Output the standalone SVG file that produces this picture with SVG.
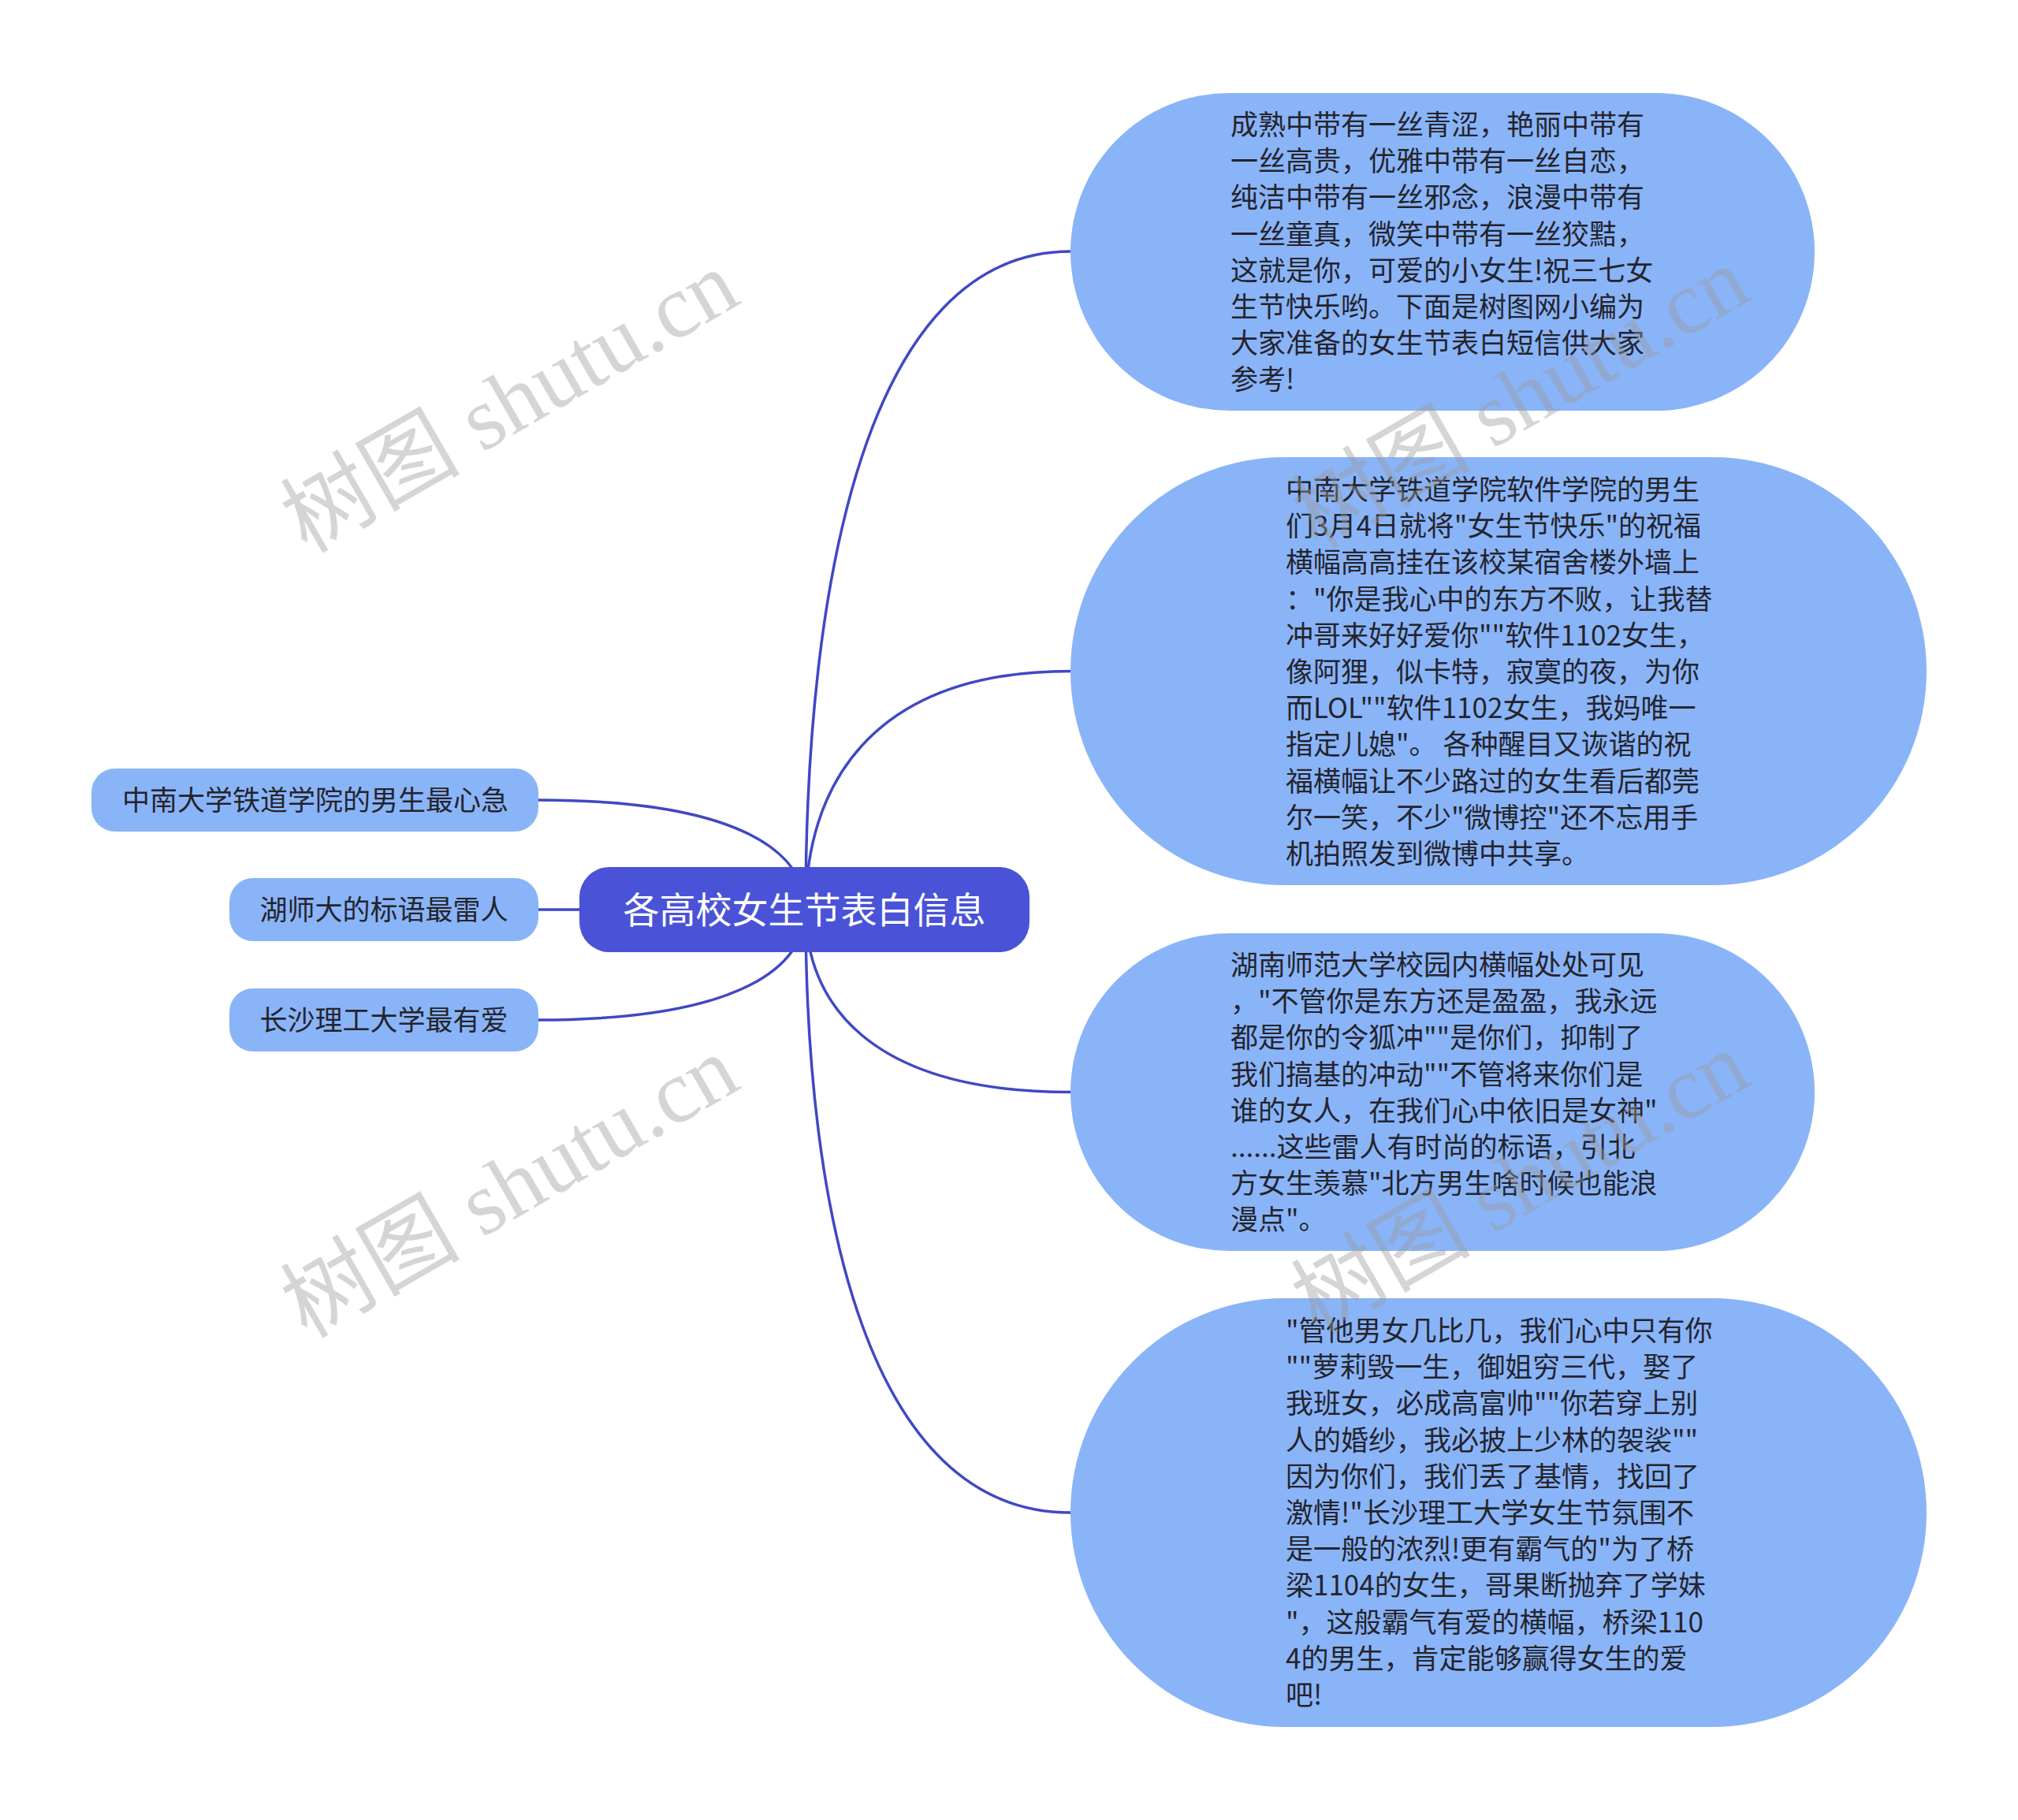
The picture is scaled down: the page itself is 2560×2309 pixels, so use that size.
<svg xmlns="http://www.w3.org/2000/svg" width="2560" height="2309" viewBox="0 0 2560 2309">
<style>
.bg{fill:#ffffff}
.link{fill:none;stroke:#4048c4;stroke-width:3.5;stroke-linecap:round}
.sub{fill:#8ab4f8}
.root{fill:#4a53d7}
.t{font-family:"Noto Sans CJK SC","Noto Sans",sans-serif;font-size:35px;fill:#24242c}
.rt{font-family:"Noto Sans CJK SC","Noto Sans",sans-serif;font-size:46px;fill:#ffffff}
.wm{font-family:"Liberation Serif","Noto Sans CJK SC",serif;font-size:114px;fill:#9a9a9a;fill-opacity:0.42}
</style>
<rect class="bg" x="0" y="0" width="2560" height="2309"/>
<g id="connectors">
<path class="link" d="M1022,1154 C1022,736 1100,319 1358,319"/>
<path class="link" d="M1022,1154 C1022,1003 1100,851.5 1358,851.5"/>
<path class="link" d="M1022,1154 C1022,1270 1100,1385.5 1358,1385.5"/>
<path class="link" d="M1022,1154 C1022,1536 1100,1919 1358,1919"/>
<path class="link" d="M1022,1154 C1022,1084 944,1015 682,1015"/>
<path class="link" d="M735,1154 L682,1154"/>
<path class="link" d="M1022,1154 C1022,1224 944,1294 682,1294"/>
</g>
<g id="root">
<rect class="root" x="735" y="1100" width="571" height="108" rx="38"/>
<text class="rt" x="1020.5" y="1171" text-anchor="middle">各高校女生节表白信息</text>
</g>
<g id="left1">
<rect class="sub" x="116" y="975" width="567" height="80" rx="30"/>
<text class="t" x="400" y="1028" text-anchor="middle">中南大学铁道学院的男生最心急</text>
</g>
<g id="left2">
<rect class="sub" x="291" y="1114" width="392" height="80" rx="30"/>
<text class="t" x="487" y="1167" text-anchor="middle">湖师大的标语最雷人</text>
</g>
<g id="left3">
<rect class="sub" x="291" y="1254" width="392" height="80" rx="30"/>
<text class="t" x="487" y="1307" text-anchor="middle">长沙理工大学最有爱</text>
</g>
<g id="right1">
<rect class="sub" x="1358" y="118" width="944" height="403" rx="201.5"/>
<text class="t" x="1561" y="171">
<tspan x="1561" dy="0">成熟中带有一丝青涩，艳丽中带有</tspan>
<tspan x="1561" dy="46.2">一丝高贵，优雅中带有一丝自恋，</tspan>
<tspan x="1561" dy="46.2">纯洁中带有一丝邪念，浪漫中带有</tspan>
<tspan x="1561" dy="46.2">一丝童真，微笑中带有一丝狡黠，</tspan>
<tspan x="1561" dy="46.2">这就是你，可爱的小女生!祝三七女</tspan>
<tspan x="1561" dy="46.2">生节快乐哟。下面是树图网小编为</tspan>
<tspan x="1561" dy="46.2">大家准备的女生节表白短信供大家</tspan>
<tspan x="1561" dy="46.2">参考!</tspan>
</text>
</g>
<g id="right2">
<rect class="sub" x="1358" y="580" width="1086" height="543" rx="271.5"/>
<text class="t" x="1631" y="634">
<tspan x="1631" dy="0">中南大学铁道学院软件学院的男生</tspan>
<tspan x="1631" dy="46.2">们3月4日就将"女生节快乐"的祝福</tspan>
<tspan x="1631" dy="46.2">横幅高高挂在该校某宿舍楼外墙上</tspan>
<tspan x="1631" dy="46.2">："你是我心中的东方不败，让我替</tspan>
<tspan x="1631" dy="46.2">冲哥来好好爱你""软件1102女生，</tspan>
<tspan x="1631" dy="46.2">像阿狸，似卡特，寂寞的夜，为你</tspan>
<tspan x="1631" dy="46.2">而LOL""软件1102女生，我妈唯一</tspan>
<tspan x="1631" dy="46.2">指定儿媳"。 各种醒目又诙谐的祝</tspan>
<tspan x="1631" dy="46.2">福横幅让不少路过的女生看后都莞</tspan>
<tspan x="1631" dy="46.2">尔一笑，不少"微博控"还不忘用手</tspan>
<tspan x="1631" dy="46.2">机拍照发到微博中共享。</tspan>
</text>
</g>
<g id="right3">
<rect class="sub" x="1358" y="1184" width="944" height="403" rx="201.5"/>
<text class="t" x="1561" y="1237">
<tspan x="1561" dy="0">湖南师范大学校园内横幅处处可见</tspan>
<tspan x="1561" dy="46.2">，"不管你是东方还是盈盈，我永远</tspan>
<tspan x="1561" dy="46.2">都是你的令狐冲""是你们，抑制了</tspan>
<tspan x="1561" dy="46.2">我们搞基的冲动""不管将来你们是</tspan>
<tspan x="1561" dy="46.2">谁的女人，在我们心中依旧是女神"</tspan>
<tspan x="1561" dy="46.2">......这些雷人有时尚的标语，引北</tspan>
<tspan x="1561" dy="46.2">方女生羡慕"北方男生啥时候也能浪</tspan>
<tspan x="1561" dy="46.2">漫点"。</tspan>
</text>
</g>
<g id="right4">
<rect class="sub" x="1358" y="1647" width="1086" height="544" rx="272"/>
<text class="t" x="1631" y="1701">
<tspan x="1631" dy="0">"管他男女几比几，我们心中只有你</tspan>
<tspan x="1631" dy="46.2">""萝莉毁一生，御姐穷三代，娶了</tspan>
<tspan x="1631" dy="46.2">我班女，必成高富帅""你若穿上别</tspan>
<tspan x="1631" dy="46.2">人的婚纱，我必披上少林的袈裟""</tspan>
<tspan x="1631" dy="46.2">因为你们，我们丢了基情，找回了</tspan>
<tspan x="1631" dy="46.2">激情!"长沙理工大学女生节氛围不</tspan>
<tspan x="1631" dy="46.2">是一般的浓烈!更有霸气的"为了桥</tspan>
<tspan x="1631" dy="46.2">梁1104的女生，哥果断抛弃了学妹</tspan>
<tspan x="1631" dy="46.2">"，这般霸气有爱的横幅，桥梁110</tspan>
<tspan x="1631" dy="46.2">4的男生，肯定能够赢得女生的爱</tspan>
<tspan x="1631" dy="46.2">吧!</tspan>
</text>
</g>
<g id="watermarks">
<text class="wm" transform="translate(648,512) rotate(-30)" x="0" y="36" text-anchor="middle">树图 shutu.cn</text>
<text class="wm" transform="translate(1930,507) rotate(-30)" x="0" y="36" text-anchor="middle">树图 shutu.cn</text>
<text class="wm" transform="translate(648,1508) rotate(-30)" x="0" y="36" text-anchor="middle">树图 shutu.cn</text>
<text class="wm" transform="translate(1930,1503) rotate(-30)" x="0" y="36" text-anchor="middle">树图 shutu.cn</text>
</g>
</svg>
